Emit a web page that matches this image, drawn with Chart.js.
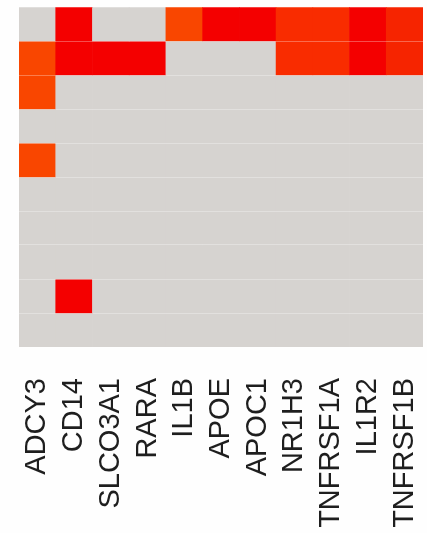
<!DOCTYPE html>
<html>
<head>
<meta charset="utf-8">
<script src="https://cdn.jsdelivr.net/npm/chart.js@4.4.1/dist/chart.umd.min.js"></script>
<style>
  html, body { margin: 0; padding: 0; background: #fefefe; }
  #wrap { width: 427px; height: 533px; }
</style>
</head>
<body>
<div id="wrap"><canvas id="heat" width="427" height="533"></canvas></div>
<script>
// genes along the x axis
const genes = ['ADCY3', 'CD14', 'SLCO3A1', 'RARA', 'IL1B', 'APOE', 'APOC1', 'NR1H3', 'TNFRSF1A', 'IL1R2', 'TNFRSF1B'];

// one array per heatmap row, top to bottom (0 = no signal, 1..4 = weak..strong)
const row1  = [0, 4, 0, 0, 1, 4, 4, 2, 2, 4, 3];
const row2  = [1, 4, 4, 4, 0, 0, 0, 2, 2, 4, 3];
const row3  = [1, 0, 0, 0, 0, 0, 0, 0, 0, 0, 0];
const row4  = [0, 0, 0, 0, 0, 0, 0, 0, 0, 0, 0];
const row5  = [1, 0, 0, 0, 0, 0, 0, 0, 0, 0, 0];
const row6  = [0, 0, 0, 0, 0, 0, 0, 0, 0, 0, 0];
const row7  = [0, 0, 0, 0, 0, 0, 0, 0, 0, 0, 0];
const row8  = [0, 0, 0, 0, 0, 0, 0, 0, 0, 0, 0];
const row9  = [0, 4, 0, 0, 0, 0, 0, 0, 0, 0, 0];
const row10 = [0, 0, 0, 0, 0, 0, 0, 0, 0, 0, 0];
const rows = [row1, row2, row3, row4, row5, row6, row7, row8, row9, row10];

const palette = ['#d6d3d0', '#f94600', '#f92c00', '#f62400', '#f40000'];

// each row is one dataset of floating bars [r, r+1]
const datasets = rows.map((vals, r) => ({
  data: vals.map(() => [r, r + 1]),
  backgroundColor: vals.map(v => palette[v]),
  borderWidth: 0,
  grouped: false,
  barPercentage: 1,
  categoryPercentage: 1
}));

new Chart(document.getElementById('heat'), {
  type: 'bar',
  data: { labels: genes, datasets: datasets },
  options: {
    responsive: false,
    animation: false,
    layout: { padding: { left: 19, right: 4, top: 7, bottom: 0 } },
    plugins: { legend: { display: false }, tooltip: { enabled: false } },
    scales: {
      x: {
        grid: { display: false, drawTicks: false },
        border: { display: false },
        ticks: {
          color: '#1e1e1e',
          font: { family: '"Liberation Sans", Arial, sans-serif', size: 29 },
          minRotation: 90,
          maxRotation: 90,
          padding: 31,
          autoSkip: false
        },
        afterFit: s => {
          s.height = 186;
          s.paddingLeft = 0;
          s.paddingRight = 0;
        }
      },
      y: {
        min: 0,
        max: rows.length,
        reverse: true,
        ticks: { display: false, stepSize: 1 },
        border: { display: false },
        grid: {
          z: 1,
          drawTicks: false,
          lineWidth: 1,
          color: c => (c.tick.value === 0 || c.tick.value === rows.length) ? 'rgba(0,0,0,0)' : 'rgba(255,255,255,0.3)'
        },
        afterFit: s => { s.width = 0; }
      }
    }
  }
});
</script>
</body>
</html>
